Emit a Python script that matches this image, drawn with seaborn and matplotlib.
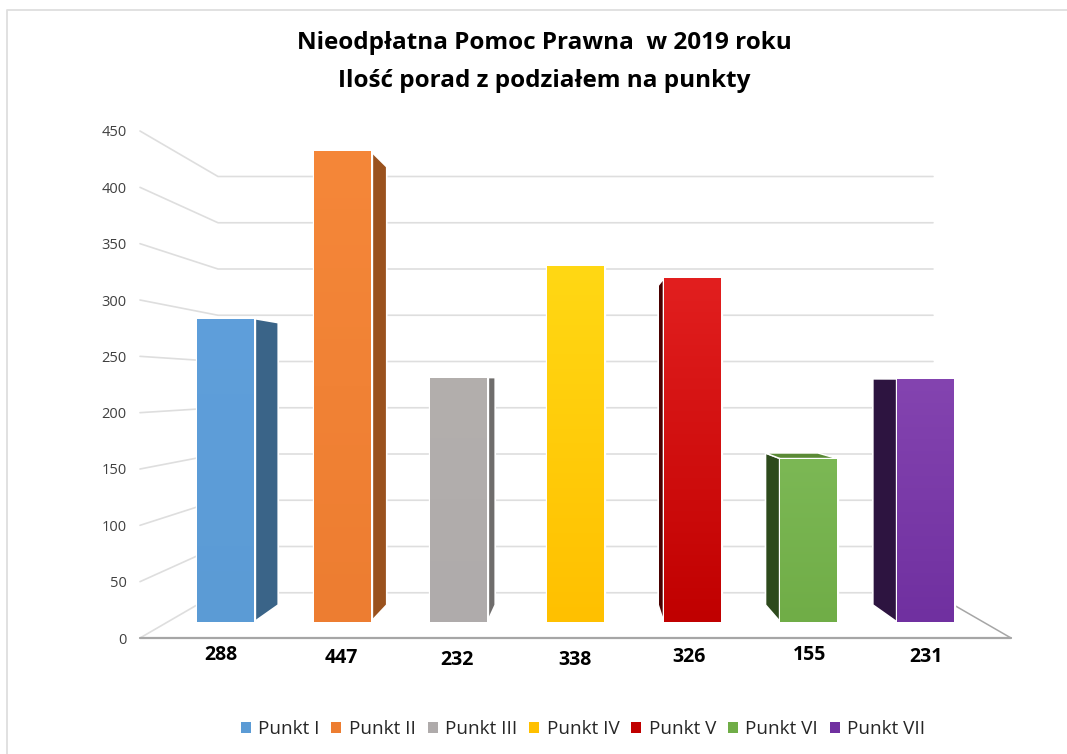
import numpy as np
import pandas as pd
import matplotlib
matplotlib.use('Agg')
import matplotlib.pyplot as plt
from matplotlib.colors import LinearSegmentedColormap
from matplotlib.patches import Polygon, Patch
import seaborn as sns

punkty = ['Punkt I', 'Punkt II', 'Punkt III', 'Punkt IV', 'Punkt V', 'Punkt VI', 'Punkt VII']
porady = [288, 447, 232, 338, 326, 155, 231]
y_ticks = [0, 50, 100, 150, 200, 250, 300, 350, 400, 450]

colors = ['#5B9BD5', '#ED7D31', '#AFABAB', '#FFC000', '#C00000', '#70AD47', '#7030A0']
top_colors = ['#5F9FDB', '#F58739', '#B3AFAD', '#FFD814', '#E21F1F', '#7CB855', '#8444B0']
side_colors = ['#3A6488', '#9A521E', '#6F6D6C', '#A67C00', '#4A0000', '#2D4A1C', '#2D1440']
cap_color = '#5A8A35'

# little offsets of the category labels, in pixels, they sit on an arc in the original
label_dx = [-5, -1, -2, -1, -3, 1, 0]
label_dy = [-33, -36, -38, -38, -35, -33, -35]

W, H = 1067, 754
sns.set_style('white')
plt.rcParams['font.family'] = ['Open Sans', 'DejaVu Sans']

fig = plt.figure(figsize=(W / 100, H / 100), dpi=100)

# background axes in pixels, for the walls of the 3D box
bg = fig.add_axes([0, 0, 1, 1], zorder=0)
bg.set_xlim(0, W)
bg.set_ylim(H, 0)
bg.axis('off')

# y axis sits on the front of the box
ax_y = fig.add_axes([140 / W, (H - 638) / H, 1 / W, 507 / H], zorder=1)
ax_y.set_ylim(0, 450)
ax_y.set_xticks([])
ax_y.set_yticks(y_ticks)
ax_y.tick_params(axis='y', length=0, pad=9.5, labelsize=10.5, labelcolor='#404040')
sns.despine(ax=ax_y, left=True, bottom=True)
ax_y.patch.set_alpha(0)

# bars
ax = fig.add_axes([167.2 / W, (H - 622) / H, 816.6 / W, 474.2 / H], zorder=2)
ax.patch.set_alpha(0)
df = pd.DataFrame({'punkt': punkty, 'porady': porady})
sns.barplot(data=df, x='punkt', y='porady', hue='punkt', palette=colors, dodge=False,
            width=57 / 116.67, saturation=1, edgecolor='white', linewidth=2.4, ax=ax)
ax.set_xlim(-0.5, 6.5)
ax.set_ylim(0, 450)
ax.set_xlabel('')
ax.set_ylabel('')
ax.set_xticks([])
ax.set_yticks([])
sns.despine(ax=ax, left=True, bottom=True)


def to_px(x, y):
    dx, dy = ax.transData.transform((x, y))
    return dx, H - dy


def depth_x(px):
    # right hand faces and left hand faces do not quite share one vanishing point
    if px < 600:
        return 600 + (px - 600) * 0.93
    return 595 + (px - 595) * 0.92


def depth_y(py):
    return 378 + (py - 378) * 0.93


# grid lines, front to back wall, then along the back wall
for v in y_ticks:
    yf = H - ax_y.transData.transform((0, v))[1]
    yb = 592.75 - v * 416.25 / 450
    bg.plot([140, 218, 933], [yf, yb, yb], color='#DEDEDE', lw=1.2, zorder=1)

# floor
bg.plot([140, 1011], [638, 638], color='#A6A6A6', lw=1.6, zorder=2)
bg.plot([1011, 933], [638, 593], color='#A6A6A6', lw=1.1, zorder=2)

# outer frame of the pasted chart
bg.plot([7, 7, W], [H, 10, 10], color='#DEDEDE', lw=1.3, zorder=1)

# side faces and gradients
bars = list(ax.patches)
grad = np.linspace(0, 1, 256).reshape(-1, 1)
for i, bar in enumerate(bars):
    x0, x1 = bar.get_x(), bar.get_x() + bar.get_width()
    top = bar.get_height()
    lx, ty = to_px(x0, top)
    rx, by = to_px(x1, 0)
    # the side the viewer can see depends on where the vanishing point is
    sx = rx if (lx + rx) / 2 < 600 else lx
    sx2 = depth_x(sx)
    ty2 = depth_y(ty)
    by2 = depth_y(by)
    bg.add_patch(Polygon([(sx, ty), (sx2, ty2), (sx2, by2), (sx, by)], closed=True,
                         facecolor=side_colors[i], edgecolor='white', lw=1.2, zorder=3))
    if ty > 378:
        bg.add_patch(Polygon([(lx, ty), (depth_x(lx), ty2), (depth_x(rx), ty2), (rx, ty)], closed=True,
                             facecolor=cap_color, edgecolor='white', lw=1.0, zorder=3))
    cmap = LinearSegmentedColormap.from_list('f', [top_colors[i], colors[i]])
    im = ax.imshow(grad, cmap=cmap, aspect='auto', extent=(x0, x1, 0, top), zorder=5)
    im.set_clip_path(bar)
ax.set_xlim(-0.5, 6.5)
ax.set_ylim(0, 450)

# values are the category labels in the original
for i, v in enumerate(porady):
    ax.annotate(str(v), xy=(i, 0), xytext=(label_dx[i], label_dy[i]), textcoords='offset pixels',
                ha='center', va='center', fontsize=14, fontweight='bold', color='black',
                annotation_clip=False)

fig.text(544 / W, 1 - 43 / H, 'Nieodpłatna Pomoc Prawna  w 2019 roku', ha='center', va='center',
         fontsize=17.5, fontweight='bold', color='black')
fig.text(544 / W, 1 - 81 / H, 'Ilość porad z podziałem na punkty', ha='center', va='center',
         fontsize=17.5, fontweight='bold', color='black')

handles = [Patch(facecolor=c, linewidth=0, label=p) for c, p in zip(colors, punkty)]
fig.legend(handles=handles, loc='center', bbox_to_anchor=(583 / W, 1 - 729 / H), ncol=7,
           frameon=False, fontsize=13.6, handlelength=0.53, handleheight=0.53,
           handletextpad=0.4, columnspacing=0.62, labelcolor='#262626')

fig.savefig('out.png', dpi=100)
